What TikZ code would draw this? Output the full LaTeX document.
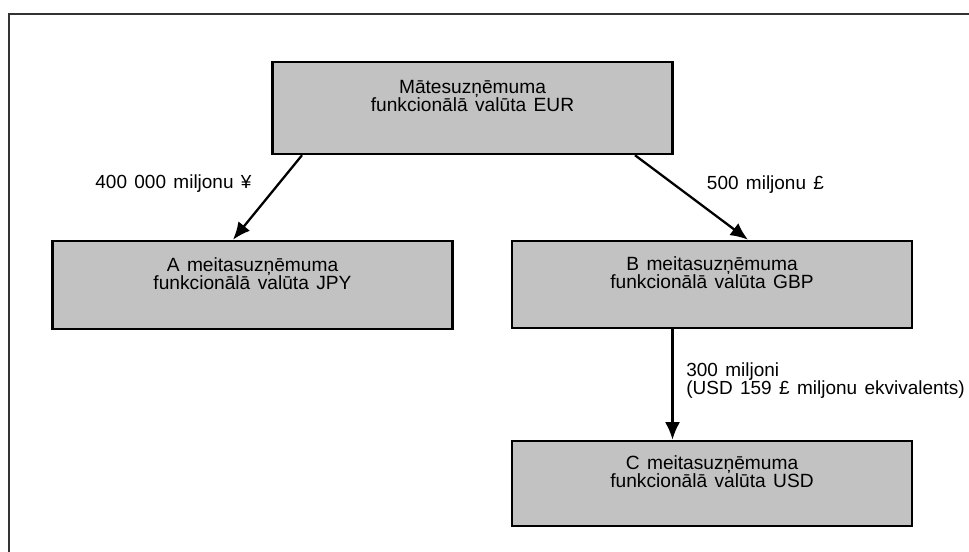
\documentclass[tikz,border=0pt]{standalone}
\usepackage{fontspec}
\setmainfont[WordSpace=1.4]{Liberation Sans}
\usepackage{tikz}
\usetikzlibrary{arrows.meta}
\definecolor{boxgray}{gray}{0.76}

\begin{document}
\begin{tikzpicture}
        [
            > = {Latex[length=10pt,width=8.5pt]},
            box/.style = {rectangle, draw=black, line width=1.4pt, fill=boxgray, align=center,
                minimum width=8cm, inner sep=0pt, font=\fontsize{10.9}{10.3}\selectfont},
            lbl/.style = {align=left, inner sep=0pt, font=\fontsize{10.8}{10.3}\selectfont},
            link/.style = {->, line width=1.3pt},
            frame/.style = {draw=black!80, line width=1.2pt}
        ]
        \useasboundingbox (0,0) rectangle (19.38,-11.04);
        \draw [frame] (0.18,-11.04) -- (0.18,-0.28) -- (19.38,-0.28);

        \node [box, minimum height=1.84cm] at (9.45, -2.16) (boxEUR) {M\=atesuz\c{n}\=emuma\\funkcion\=al\=a val\=uta EUR\\[3pt]};
        \node [box, minimum height=1.76cm] at (5.05, -5.70) (boxJPY) {A meitasuz\c{n}\=emuma\\funkcion\=al\=a val\=uta JPY\\[3pt]};
        \node [box, minimum height=1.74cm] at (14.24, -5.69) (boxGBP) {B meitasuz\c{n}\=emuma\\funkcion\=al\=a val\=uta GBP\\[3pt]};
        \node [box, minimum height=1.70cm] at (14.24, -9.67) (boxUSD) {C meitasuz\c{n}\=emuma\\funkcion\=al\=a val\=uta USD\\[3pt]};

        \node [lbl] at (3.47, -3.68) (lblJPY) {400 000 miljonu ¥};
        \node [lbl] at (15.31, -3.70) (lblGBP) {500 miljonu £};
        \node [lbl, anchor=west] at (13.72, -7.61) (lblUSD) {300 miljoni\\(USD 159 £ miljonu ekvivalents)};

        \draw[link] ([xshift=-3.41cm]boxEUR.south) -- ([xshift=-0.39cm]boxJPY.north);
        \draw[link] ([xshift=3.25cm]boxEUR.south) -- ([xshift=0.72cm]boxGBP.north);
        \draw[link] ([xshift=-0.79cm]boxGBP.south) -- ([xshift=-0.79cm]boxUSD.north);
    \end{tikzpicture}
\end{document}
